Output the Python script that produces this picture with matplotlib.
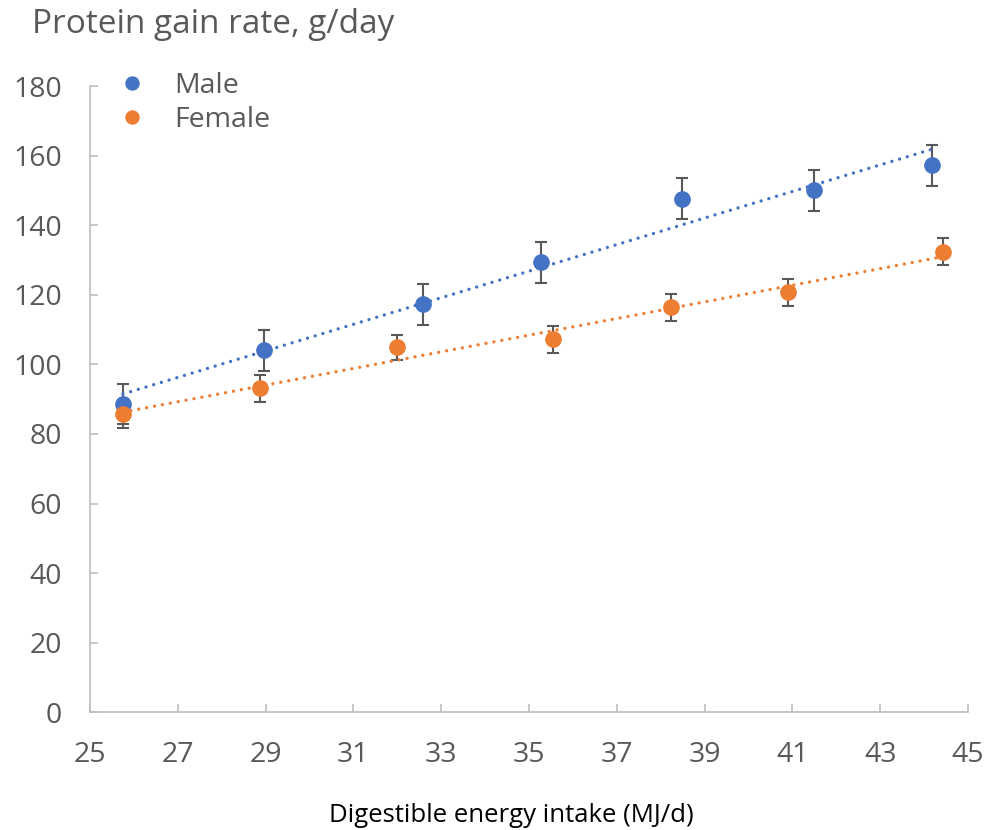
import numpy as np
import matplotlib
matplotlib.use("Agg")
import matplotlib.pyplot as plt

plt.rcParams['font.family'] = ['Open Sans', 'DejaVu Sans']

# data
male_x = [25.75, 28.96, 32.59, 35.27, 38.49, 41.49, 44.18]
male_y = [88.6, 104.1, 117.3, 129.4, 147.7, 150.1, 157.3]
male_err = [5.8, 5.9, 5.9, 5.9, 5.9, 5.9, 5.9]

female_x = [25.75, 28.87, 31.99, 35.55, 38.23, 40.90, 44.43]
female_y = [85.7, 93.2, 104.9, 107.3, 116.4, 120.8, 132.4]
female_err = [3.9, 3.9, 3.7, 3.9, 3.9, 3.9, 3.9]

x_ticks = [25, 27, 29, 31, 33, 35, 37, 39, 41, 43, 45]
y_ticks = [0, 20, 40, 60, 80, 100, 120, 140, 160, 180]

blue = '#4472C4'
orange = '#ED7D31'
grey_txt = '#595959'
axis_col = '#BFBFBF'

fig = plt.figure(figsize=(9.9, 8.3), dpi=100)
ax = fig.add_axes([0.0909, 0.142, 0.887, 0.754])

for xs, ys, es, col, lab in [(male_x, male_y, male_err, blue, 'Male'),
                             (female_x, female_y, female_err, orange, 'Female')]:
    ax.errorbar(xs, ys, yerr=es, fmt='none', ecolor=grey_txt, elinewidth=1.5,
                capsize=4.5, capthick=1.5, zorder=2)
    ax.plot(xs, ys, 'o', color=col, markersize=11, label=lab, zorder=3)
    # linear trendline
    k, b = np.polyfit(xs, ys, 1)
    tx = np.array([min(xs), max(xs)])
    ax.plot(tx, k * tx + b, color=col, lw=2.4, linestyle=(0, (0.01, 2.4)),
            dash_capstyle='round', zorder=4)

ax.set_xlim(25, 45)
ax.set_ylim(0, 180)
ax.set_xticks(x_ticks)
ax.set_yticks(y_ticks)
ax.tick_params(direction='in', length=6, width=1.2, color=axis_col,
               labelsize=20.5, labelcolor=grey_txt, pad=20)
ax.tick_params(axis='x', pad=21)
for s in ['top', 'right']:
    ax.spines[s].set_visible(False)
for s in ['left', 'bottom']:
    ax.spines[s].set_color(axis_col)
    ax.spines[s].set_linewidth(1.2)

ax.set_xlabel('Digestible energy intake (MJ/d)', fontsize=18.5, color='black', labelpad=24)
ax.xaxis.label.set_x(0.4795)
fig.text(0.032, 0.97, 'Protein gain rate, g/day', fontsize=24, color=grey_txt,
         ha='left', va='center')

ax.legend(loc='upper left', bbox_to_anchor=(-0.014, 1.064), frameon=False,
          fontsize=20.5, labelcolor=grey_txt, handletextpad=0.5,
          labelspacing=0.2, markerscale=0.85)

fig.savefig('out.png', dpi=100)
